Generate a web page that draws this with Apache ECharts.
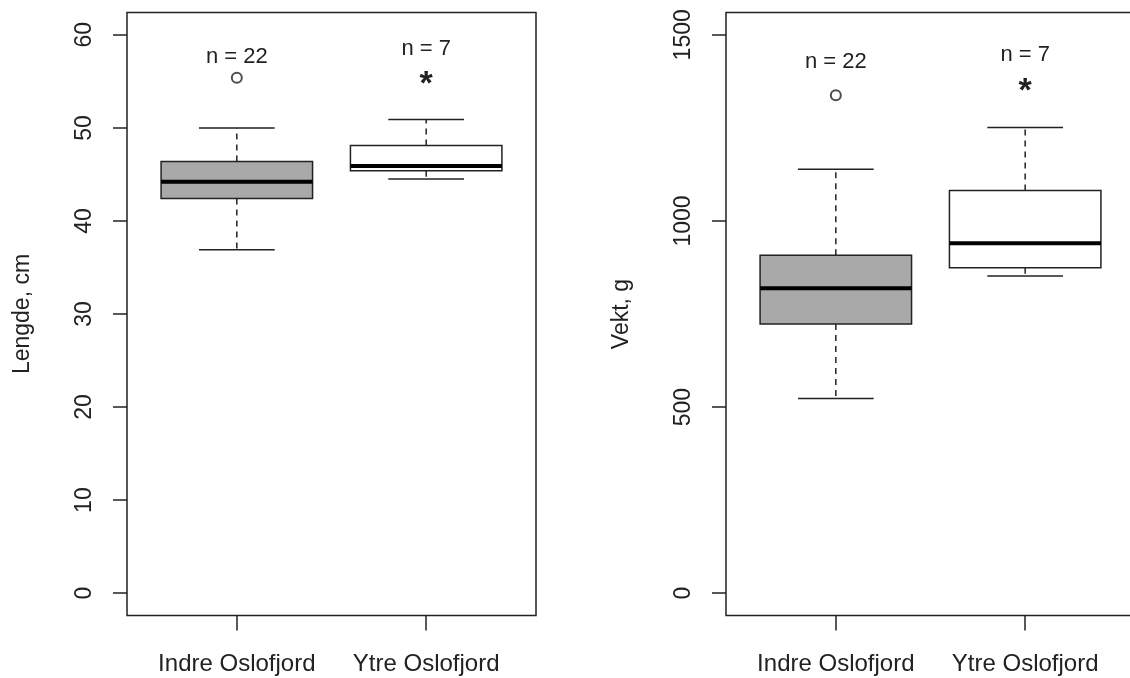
<!DOCTYPE html>
<html>
<head>
<meta charset="utf-8">
<script src="https://cdn.jsdelivr.net/npm/echarts@6/dist/echarts.min.js"></script>
<style>
  html, body { margin: 0; padding: 0; background: #fff; }
  #chart { width: 1130px; height: 678px; }
</style>
</head>
<body>
<div id="chart"></div>
<script>
 // categories and box stats [min, Q1, median, Q3, max]
 var categories = ['Indre Oslofjord', 'Ytre Oslofjord'];
 var nLabels = ['n = 22', 'n = 7'];

 var lengdeBox = [
     [36.9, 42.4, 44.2, 46.4, 50.0],
     [44.5, 45.4, 45.9, 48.1, 50.9]
 ];
 var lengdeOutliers = [[1, 55.4]];
 var lengdeTicks = [0, 10, 20, 30, 40, 50, 60];

 var vektBox = [
     [523, 723, 819, 908, 1139],
     [852, 874, 940, 1082, 1251]
 ];
 var vektOutliers = [[1, 1338]];
 var vektTicks = [0, 500, 1000, 1500];

 // where the n = .. and * texts sit (data units)
 var lengdeNPos = [57.65, 58.5];
 var lengdeStarPos = [[2, 54.6]];
 var vektNPos = [1426, 1445];
 var vektStarPos = [[2, 1348]];

 var boxFill = ['#a9a9a9', '#ffffff'];
 var font = '"Liberation Sans", Arial, sans-serif';
 var ink = '#222';

 var myChart = echarts.init(document.getElementById('chart'));

 function renderBox(params, api) {
     var x = api.value(0);
     var lo = api.coord([x, api.value(1)]);
     var q1 = api.coord([x, api.value(2)]);
     var med = api.coord([x, api.value(3)]);
     var q3 = api.coord([x, api.value(4)]);
     var hi = api.coord([x, api.value(5)]);
     var unit = api.size([1, 0])[0];
     var bw = unit * 0.8, cw = unit * 0.4, cx = lo[0];
     var solid = { stroke: ink, lineWidth: 1.5 };
     var dashed = { stroke: ink, lineWidth: 1.5, lineDash: [6, 5] };
     return {
         type: 'group',
         children: [
             { type: 'line', shape: { x1: cx, y1: q3[1], x2: cx, y2: hi[1] }, style: dashed },
             { type: 'line', shape: { x1: cx, y1: q1[1], x2: cx, y2: lo[1] }, style: dashed },
             { type: 'line', shape: { x1: cx - cw / 2, y1: hi[1], x2: cx + cw / 2, y2: hi[1] }, style: solid },
             { type: 'line', shape: { x1: cx - cw / 2, y1: lo[1], x2: cx + cw / 2, y2: lo[1] }, style: solid },
             {
                 type: 'rect',
                 shape: { x: cx - bw / 2, y: q3[1], width: bw, height: q1[1] - q3[1] },
                 style: { fill: boxFill[params.dataIndex], stroke: ink, lineWidth: 1.5 }
             },
             { type: 'line', shape: { x1: cx - bw / 2, y1: med[1], x2: cx + bw / 2, y2: med[1] }, style: { stroke: '#000', lineWidth: 4 } }
         ]
     };
 }

 function textRenderer(texts, size, weight) {
     return function (params, api) {
         var p = api.coord([api.value(0), api.value(1)]);
         return {
             type: 'text', x: p[0], y: p[1],
             style: {
                 text: texts[params.dataIndex], fontSize: size, fontWeight: weight,
                 fontFamily: font, fill: ink, align: 'center', verticalAlign: 'middle'
             }
         };
     };
 }

 function panel(idx, left, yMin, yMax, ticks, yName, nameGap, boxes, outliers, nPos, starPos) {
     var grid = {
         left: left, top: 12.5, width: 409, height: 603, outerBoundsMode: 'none',
         show: true, borderColor: ink, borderWidth: 1.5, backgroundColor: 'transparent'
     };
     var xAxis = {
         type: 'value', gridIndex: idx, min: 0.42, max: 2.58,
         axisLine: { show: false, onZero: false },
         splitLine: { show: false },
         axisTick: { show: true, customValues: [1, 2], length: 15, lineStyle: { color: ink, width: 1.5 } },
         axisLabel: {
             customValues: [1, 2], margin: 37, fontSize: 24, fontFamily: font, color: ink,
             formatter: function (v) { return categories[Math.round(v) - 1]; }
         }
     };
     var yAxis = {
         type: 'value', gridIndex: idx, min: yMin, max: yMax,
         name: yName, nameLocation: 'middle', nameRotate: 90, nameGap: nameGap,
         nameTextStyle: { fontSize: 23, fontFamily: font, color: ink },
         axisLine: { show: false, onZero: false },
         splitLine: { show: false },
         axisTick: { show: true, customValues: ticks, length: 14, lineStyle: { color: ink, width: 1.5 } },
         axisLabel: {
             customValues: ticks, rotate: 90, margin: 31, fontSize: 23, fontFamily: font, color: ink,
             formatter: function (v) { return String(v); }
         }
     };
     var boxData = boxes.map(function (b, i) { return [i + 1].concat(b); });
     var series = [
         {
             type: 'custom', xAxisIndex: idx, yAxisIndex: idx,
             renderItem: renderBox, data: boxData,
             encode: { x: 0, y: [1, 2, 3, 4, 5] }, silent: true
         },
         {
             type: 'scatter', xAxisIndex: idx, yAxisIndex: idx,
             symbol: 'emptyCircle', symbolSize: 10,
             itemStyle: { color: ink, borderColor: ink, borderWidth: 1.3 },
             data: outliers, silent: true
         },
         {
             type: 'custom', xAxisIndex: idx, yAxisIndex: idx,
             renderItem: textRenderer(nLabels, 22, 'normal'),
             data: nPos.map(function (y, i) { return [i + 1, y]; }), silent: true
         },
         {
             type: 'custom', xAxisIndex: idx, yAxisIndex: idx,
             renderItem: textRenderer(['*', '*'], 34, 'bold'),
             data: starPos, silent: true
         }
     ];
     return { grid: grid, xAxis: xAxis, yAxis: yAxis, series: series };
 }

 var p1 = panel(0, 127, -2.4, 62.4, lengdeTicks, 'Lengde, cm', 93, lengdeBox, lengdeOutliers, lengdeNPos, lengdeStarPos);
 var p2 = panel(1, 726, -60, 1560, vektTicks, 'Vekt, g', 93, vektBox, vektOutliers, vektNPos, vektStarPos);

 var option = {
     animation: false,
     grid: [p1.grid, p2.grid],
     xAxis: [p1.xAxis, p2.xAxis],
     yAxis: [p1.yAxis, p2.yAxis],
     series: p1.series.concat(p2.series)
 };
 myChart.setOption(option);
</script>
</body>
</html>
